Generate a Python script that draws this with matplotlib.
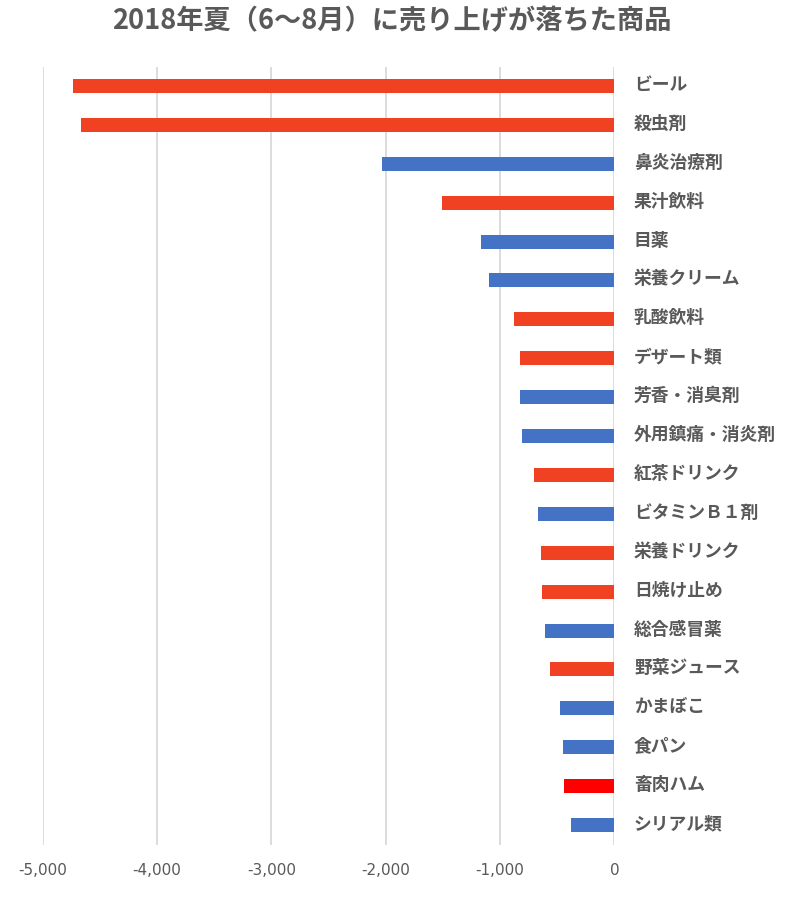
import matplotlib

matplotlib.use("Agg")
import matplotlib.pyplot as plt
from matplotlib.ticker import FuncFormatter
from matplotlib.transforms import ScaledTranslation

plt.rcParams["font.family"] = ["Noto Sans CJK JP", "DejaVu Sans"]

# 商品名（上から順）
products = [
    "ビール", "殺虫剤", "鼻炎治療剤", "果汁飲料", "目薬",
    "栄養クリーム", "乳酸飲料", "デザート類", "芳香・消臭剤", "外用鎮痛・消炎剤",
    "紅茶ドリンク", "ビタミンＢ１剤", "栄養ドリンク", "日焼け止め", "総合感冒薬",
    "野菜ジュース", "かまぼこ", "食パン", "畜肉ハム", "シリアル類",
]
# 売上の変化
sales_change = [
    -4735, -4665, -2033, -1508, -1167,
    -1097, -879, -822, -826, -809,
    -704, -669, -643, -634, -608,
    -564, -476, -450, -441, -380,
]
# 分類（色分け）
group = [
    "drink", "drug", "other", "drink", "other",
    "other", "drink", "drink", "other", "other",
    "drink", "other", "drink", "drink", "other",
    "drink", "other", "other", "ham", "other",
]

COLORS = {"drink": "#F04123", "drug": "#F04123", "other": "#4472C4", "ham": "#FF0000"}
TEXT_COLOR = "#595959"

fig = plt.figure(figsize=(7.97, 8.99), dpi=100)
ax = fig.add_axes([0.0536, 0.0606, 0.7174, 0.8654])

ypos = list(range(len(products)))
ax.barh(ypos, sales_change, height=0.36, color=[COLORS[g] for g in group], zorder=3)

ax.set_xlim(-5000, 0)
ax.set_ylim(len(products) - 0.5, -0.5)
ax.set_xticks(range(-5000, 1, 1000))
ax.xaxis.set_major_formatter(FuncFormatter(lambda v, _: f"{int(v):,}"))
ax.grid(axis="x", color="#D9D9D9", linewidth=1.3, zorder=0)
ax.grid(axis="y", visible=False)
for sp in ax.spines.values():
    sp.set_visible(False)

ax.yaxis.tick_right()
ax.set_yticks(ypos)
ax.set_yticklabels(products, fontsize=12.8, fontweight="bold", color=TEXT_COLOR)
ax.tick_params(axis="y", length=0, pad=14)
ax.tick_params(axis="x", length=0, pad=13, labelsize=11, labelcolor=TEXT_COLOR)
for lbl in ax.get_xticklabels():
    lbl.set_family(["Liberation Sans Narrow", "DejaVu Sans"])
# 商品名を少し上へ
shift_up = ScaledTranslation(0, 2.2 / 72, fig.dpi_scale_trans)
for lbl in ax.get_yticklabels():
    lbl.set_transform(lbl.get_transform() + shift_up)

fig.text(0.492, 0.977, "2018年夏（6〜8月）に売り上げが落ちた商品",
         ha="center", va="center", fontsize=19.6, fontweight="bold", color=TEXT_COLOR)

fig.savefig("out.png", dpi=100)
plt.close(fig)
